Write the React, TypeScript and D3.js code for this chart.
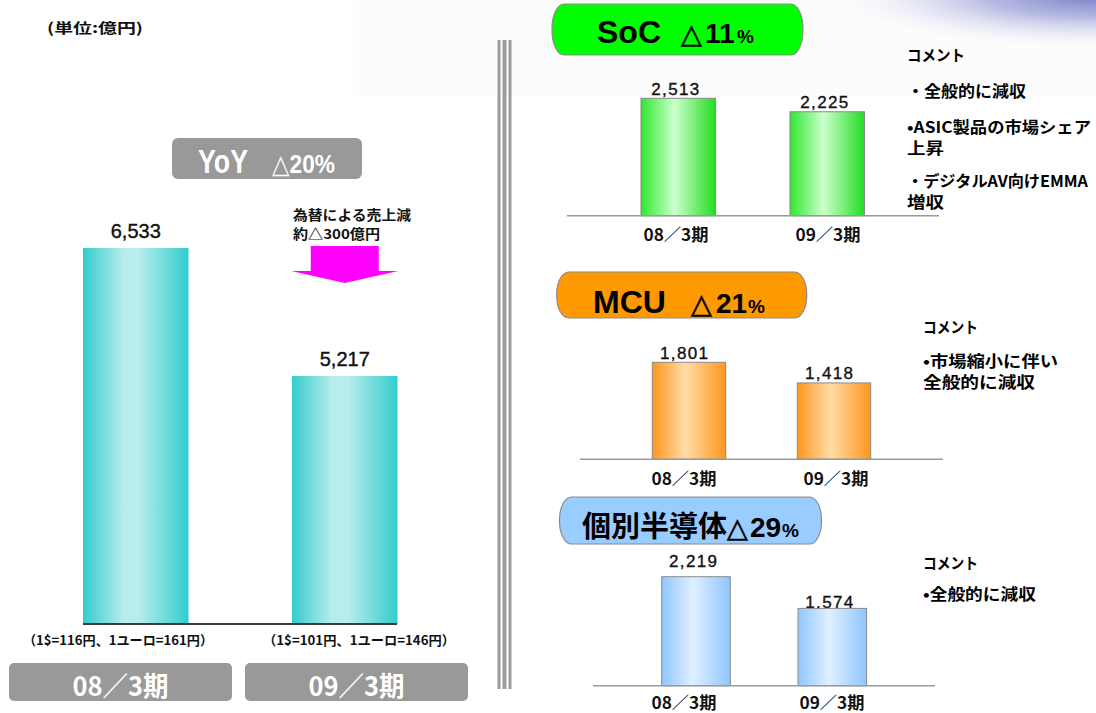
import React from "react";
import * as d3 from "d3";

// ---------- data ----------
const periods = ["08/3期", "09/3期"];
const periodLabels = ["08／3期", "09／3期"];
const totalSales = [6533, 5217];
const socSales = [2513, 2225];
const mcuSales = [1801, 1418];
const discreteSales = [2219, 1574];
const exchangeRates = ["（1$=116円、1ユーロ=161円）", "（1$=101円、1ユーロ=146円）"];
const unitLabel = "(単位:億円)";
const yoyTitle = ["YoY", "△20%"];
const fxNote = ["為替による売上減", "約△300億円"];
const socTitle = ["SoC", "△", "11", "%"];
const mcuTitle = ["MCU", "△", "21", "%"];
const discreteTitle = ["個別半導体", "△", "29", "%"];
const socComments = ["コメント", "・全般的に減収", "•ASIC製品の市場シェア", "上昇", "・デジタルAV向けEMMA", "増収"];
const mcuComments = ["コメント", "•市場縮小に伴い", "全般的に減収"];
const discreteComments = ["コメント", "•全般的に減収"];

// ---------- style / layout ----------
const JP = "'Noto Sans CJK JP', 'Noto Sans CJK SC', sans-serif";
const LATIN = "'Liberation Sans', Arial, 'DejaVu Sans', 'Noto Sans CJK JP', sans-serif";
const fmt = d3.format(",");
const LEFT_FLOOR = 2667; // visual floor of the left (non zero-based) bar chart

const segLayouts = {
  soc: {
    barLeft: 641, step: 149, barW: 74.5, baseY: 215.7, topY: 98.3,
    axis: [567, 939], catX: [676, 828], catY: 234, labelDx: -3, labelDy: [-9, -9],
    box: { x: 552, y: 4, w: 251, h: 51, fill: "#00ff00" },
    titleX: [597, 681, 705, 737], titleSize: [32, 27, 28, 19], titleY: 43,
    commentX: 907, commentY: [54, 90, 126, 147, 180, 201], commentW: [58, 119, 184, 37, 181, 37],
    grad: ["#2fe82f", "#ccffcc", "#22dd22"],
  },
  mcu: {
    barLeft: 652.3, step: 145, barW: 73.4, baseY: 459.3, topY: 362.3,
    axis: [580, 943], catX: [684, 836], catY: 478, labelDx: -5, labelDy: [-9, -9.5],
    box: { x: 556.7, y: 272, w: 250, h: 46, fill: "#ff9900" },
    titleX: [593, 691, 716, 748], titleSize: [32, 27, 28, 19], titleY: 313,
    commentX: 923, commentY: [326, 360, 381], commentW: [55, 135, 112],
    grad: ["#ff961e", "#ffdca6", "#ff961e"],
  },
  discrete: {
    barLeft: 661.7, step: 136.3, barW: 68.6, baseY: 685.7, topY: 576.7,
    axis: [593, 935], catX: [684, 832], catY: 702, labelDx: -3, labelDy: [-15, -6],
    box: { x: 559.5, y: 497, w: 262, h: 47, fill: "#99ccff" },
    titleX: [582, 727, 750, 782], titleSize: [29, 27, 28, 19], titleY: 537,
    commentX: 923, commentY: [562, 593], commentW: [55, 113],
    grad: ["#8fc6ff", "#e0efff", "#8fc6ff"],
  },
};

function Gradient({ id, colors }: { id: string; colors: string[] }) {
  return (
    <linearGradient id={id} x1="0" y1="0" x2="1" y2="0">
      <stop offset="0" stopColor={colors[0]} />
      <stop offset="0.45" stopColor={colors[1]} />
      <stop offset="1" stopColor={colors[2]} />
    </linearGradient>
  );
}

function SegmentPanel({ values, cfg, gradId, title, comments }: any) {
  const x = d3
    .scaleBand<string>()
    .domain(periods)
    .range([cfg.barLeft, cfg.barLeft + cfg.step + cfg.barW])
    .paddingInner(1 - cfg.barW / cfg.step)
    .paddingOuter(0);
  const y = d3.scaleLinear().domain([0, d3.max(values) as number]).range([cfg.baseY, cfg.topY]);
  const lx = d3.scalePoint<string>().domain(periods).range(cfg.catX);
  const b = cfg.box;
  return (
    <g>
      <rect x={b.x} y={b.y} width={b.w} height={b.h} rx={12} ry={b.h / 2 - 1} fill={b.fill} stroke="#8c8c8c" strokeWidth={1.2} />
      <text y={cfg.titleY} fontFamily={LATIN} fontWeight="bold" fill="#000">
        {title.map((t: string, i: number) => (
          <tspan
            key={i}
            x={cfg.titleX[i]}
            fontSize={cfg.titleSize[i]}
            fontWeight={t === "△" ? "normal" : "bold"}
            fontFamily={i === 0 && /[^\x00-\x7f]/.test(t) ? JP : t === "△" ? "'DejaVu Sans', sans-serif" : LATIN}
            stroke={t === "△" ? "#000" : "none"}
            strokeWidth={t === "△" ? 0.6 : 0}
          >
            {t}
          </tspan>
        ))}
      </text>
      {values.map((v: number, i: number) => (
        <text
          key={"v" + i}
          x={(x(periods[i]) as number) + x.bandwidth() / 2 + cfg.labelDx}
          y={y(v) + cfg.labelDy[i]}
          textAnchor="middle"
          dominantBaseline="central"
          fontFamily={LATIN}
          fontSize={17}
          textLength={48}
          lengthAdjust="spacing"
          fill="#111"
          stroke="#111"
          strokeWidth={0.35}
        >
          {fmt(v)}
        </text>
      ))}
      {values.map((v: number, i: number) => (
        <rect
          key={"b" + i}
          x={x(periods[i])}
          y={y(v)}
          width={x.bandwidth()}
          height={cfg.baseY - y(v)}
          fill={`url(#${gradId})`}
          stroke="#8a8a8a"
          strokeWidth={1}
        />
      ))}
      <line x1={cfg.axis[0]} x2={cfg.axis[1]} y1={cfg.baseY} y2={cfg.baseY} stroke="#9a9a9a" strokeWidth={1.5} />
      {periods.map((p, i) => (
        <text
          key={"c" + i}
          x={lx(p)}
          y={cfg.catY}
          textAnchor="middle"
          dominantBaseline="central"
          fontFamily={JP}
          fontWeight="bold"
          fontSize={16.5}
          textLength={65}
          lengthAdjust="spacingAndGlyphs"
          fill="#111"
        >
          {periodLabels[i]}
        </text>
      ))}
      {comments.map((c: string, i: number) => (
        <text
          key={"m" + i}
          x={cfg.commentX}
          y={cfg.commentY[i]}
          dominantBaseline="central"
          fontFamily={JP}
          fontWeight="bold"
          fontSize={15.5}
          textLength={cfg.commentW[i]}
          lengthAdjust="spacingAndGlyphs"
          fill="#000"
        >
          {c}
        </text>
      ))}
    </g>
  );
}

export default function App() {
  // left main chart scales
  const xL = d3
    .scaleBand<string>()
    .domain(periods)
    .range([83, 83 + 209 + 105.5])
    .paddingInner(1 - 105.5 / 209)
    .paddingOuter(0);
  const yL = d3.scaleLinear().domain([LEFT_FLOOR, d3.max(totalSales) as number]).range([624, 248]);
  const fxX = d3.scalePoint<string>().domain(periods).range([118, 359]);
  const boxX = d3.scalePoint<string>().domain(periods).range([120.5, 356.5]);
  const arrowCx = (xL(periods[1]) as number) + xL.bandwidth() / 2;

  const arrowPath = d3.path();
  arrowPath.moveTo(arrowCx - 34, 246);
  arrowPath.lineTo(arrowCx + 34, 246);
  arrowPath.lineTo(arrowCx + 34, 271);
  arrowPath.lineTo(arrowCx + 53.5, 271);
  arrowPath.lineTo(arrowCx, 283);
  arrowPath.lineTo(arrowCx - 53.5, 271);
  arrowPath.lineTo(arrowCx - 34, 271);
  arrowPath.closePath();

  return (
    <svg
      width={1096}
      height={713}
      viewBox="0 0 1096 713"
      style={{ position: "absolute", left: 0, top: 0, background: "#fff" }}
    >
      <defs>
        <linearGradient id="gCyan" x1="0" y1="0" x2="1" y2="0">
          <stop offset="0" stopColor="#33cccc" />
          <stop offset="0.38" stopColor="#b6ecec" />
          <stop offset="0.52" stopColor="#b9eeee" />
          <stop offset="1" stopColor="#33cccc" />
        </linearGradient>
        <Gradient id="gSoc" colors={segLayouts.soc.grad} />
        <Gradient id="gMcu" colors={segLayouts.mcu.grad} />
        <Gradient id="gDis" colors={segLayouts.discrete.grad} />
        <radialGradient
          id="gCorner"
          gradientUnits="userSpaceOnUse"
          cx={1096}
          cy={-4}
          r={270}
          gradientTransform="translate(1096 -4) scale(1 0.2) translate(-1096 4)"
        >
          <stop offset="0" stopColor="#6f76c3" stopOpacity={0.95} />
          <stop offset="0.4" stopColor="#989dd6" stopOpacity={0.7} />
          <stop offset="0.75" stopColor="#d4d6ef" stopOpacity={0.35} />
          <stop offset="1" stopColor="#ffffff" stopOpacity={0} />
        </radialGradient>
      </defs>

      {/* background details */}
      <rect x={353} y={0} width={743} height={97} fill="#fcfcfc" />
      <rect x={820} y={0} width={276} height={70} fill="url(#gCorner)" />

      {/* divider */}
      <rect x={497.5} y={40} width={3} height={649} fill="#9c9c9c" />
      <rect x={502.5} y={40} width={4} height={649} fill="#9c9c9c" />
      <rect x={508.5} y={40} width={3} height={649} fill="#9c9c9c" />

      {/* ---------- left panel ---------- */}
      <text x={47} y={27} dominantBaseline="central" fontFamily={JP} fontWeight="bold" fontSize={14} textLength={96} lengthAdjust="spacingAndGlyphs" fill="#111">
        {unitLabel}
      </text>

      <rect x={172} y={138} width={190} height={41} rx={6} fill="#999999" />
      <text x={198} y={161} dominantBaseline="central" fontFamily={LATIN} fontWeight="bold" fontSize={34} textLength={50} lengthAdjust="spacingAndGlyphs" fill="#fff">
        {yoyTitle[0]}
      </text>
      <text x={272} y={164} dominantBaseline="central" fontFamily={LATIN} fontWeight="bold" fontSize={26} textLength={63} lengthAdjust="spacingAndGlyphs" fill="#fff">
        {yoyTitle[1]}
      </text>

      {fxNote.map((t, i) => (
        <text key={"fx" + i} x={293} y={[214, 233][i]} dominantBaseline="central" fontFamily={JP} fontWeight="bold" fontSize={13.5} textLength={[118, 87][i]} lengthAdjust="spacingAndGlyphs" fill="#111">
          {t}
        </text>
      ))}
      <path d={arrowPath.toString()} fill="#ff00ff" />

      {totalSales.map((v, i) => (
        <text
          key={"tv" + i}
          x={(xL(periods[i]) as number) + xL.bandwidth() / 2}
          y={yL(v) - 17}
          textAnchor="middle"
          dominantBaseline="central"
          fontFamily={LATIN}
          fontSize={20}
          fill="#111"
          stroke="#111"
          strokeWidth={0.4}
        >
          {fmt(v)}
        </text>
      ))}
      {totalSales.map((v, i) => (
        <rect key={"tb" + i} x={xL(periods[i])} y={yL(v)} width={xL.bandwidth()} height={624 - yL(v)} fill="url(#gCyan)" />
      ))}
      <line x1={83} x2={397} y1={624} y2={624} stroke="#3a3a3a" strokeWidth={2} />

      {periods.map((p, i) => (
        <text key={"er" + i} x={fxX(p)} y={639} textAnchor="middle" dominantBaseline="central" fontFamily={JP} fontWeight="bold" fontSize={13} textLength={[190, 192][i]} lengthAdjust="spacingAndGlyphs" fill="#111">
          {exchangeRates[i]}
        </text>
      ))}

      {periods.map((p, i) => (
        <g key={"pb" + i}>
          <rect x={(boxX(p) as number) - 111.5} y={663} width={223} height={38} rx={5} fill="#999999" />
          <text x={boxX(p)} y={684} textAnchor="middle" dominantBaseline="central" fontFamily={JP} fontWeight="bold" fontSize={27} textLength={96} lengthAdjust="spacingAndGlyphs" fill="#fff">
            {periodLabels[i]}
          </text>
        </g>
      ))}

      {/* ---------- right panels ---------- */}
      <SegmentPanel values={socSales} cfg={segLayouts.soc} gradId="gSoc" title={socTitle} comments={socComments} />
      <SegmentPanel values={mcuSales} cfg={segLayouts.mcu} gradId="gMcu" title={mcuTitle} comments={mcuComments} />
      <SegmentPanel values={discreteSales} cfg={segLayouts.discrete} gradId="gDis" title={discreteTitle} comments={discreteComments} />
    </svg>
  );
}
